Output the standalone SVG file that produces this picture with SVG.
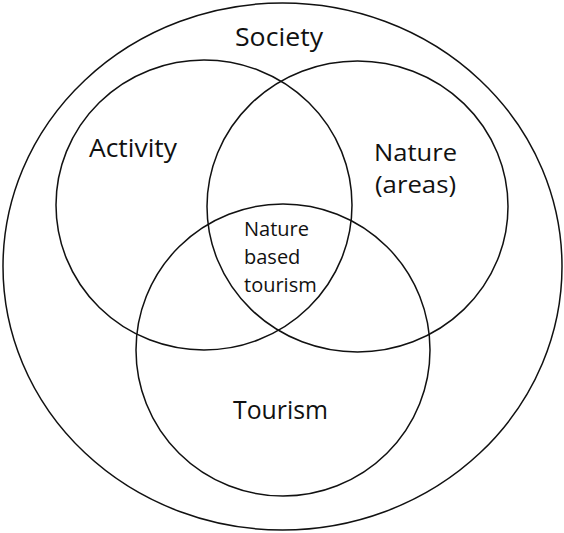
<svg xmlns="http://www.w3.org/2000/svg" width="564" height="533" viewBox="0 0 564 533">
<style>
.c{fill:none;stroke:#111;stroke-width:1.5}
.t{font-family:"Open Sans","Liberation Sans",sans-serif;fill:#111}
.big{font-size:26px}
.mid{font-size:23.4px}
.small{font-size:20px}
</style>
<rect width="564" height="533" fill="#fff"/>
<g id="society">
<ellipse class="c" cx="282.5" cy="266.5" rx="279.5" ry="263.5"/>
<text class="t big" x="235" y="46" textLength="88" lengthAdjust="spacingAndGlyphs">Society</text>
</g>
<g id="activity">
<ellipse class="c" cx="204" cy="205" rx="148" ry="145"/>
<text class="t big" x="89" y="157" textLength="88" lengthAdjust="spacingAndGlyphs">Activity</text>
</g>
<g id="nature">
<ellipse class="c" cx="357.5" cy="206.5" rx="150.5" ry="145.5"/>
<text class="t mid" x="374" y="161" textLength="83" lengthAdjust="spacingAndGlyphs">Nature</text>
<text class="t mid" x="375" y="193" textLength="81" lengthAdjust="spacingAndGlyphs">(areas)</text>
</g>
<g id="tourism">
<ellipse class="c" cx="283" cy="350" rx="147" ry="146"/>
<text class="t big" x="233" y="419" textLength="95" lengthAdjust="spacingAndGlyphs">Tourism</text>
</g>
<g id="nature-based-tourism">
<text class="t small"><tspan x="244" y="236">Nature</tspan><tspan x="244" y="264">based</tspan><tspan x="244" y="292">tourism</tspan></text>
</g>
<g id="connectors"></g>
</svg>
